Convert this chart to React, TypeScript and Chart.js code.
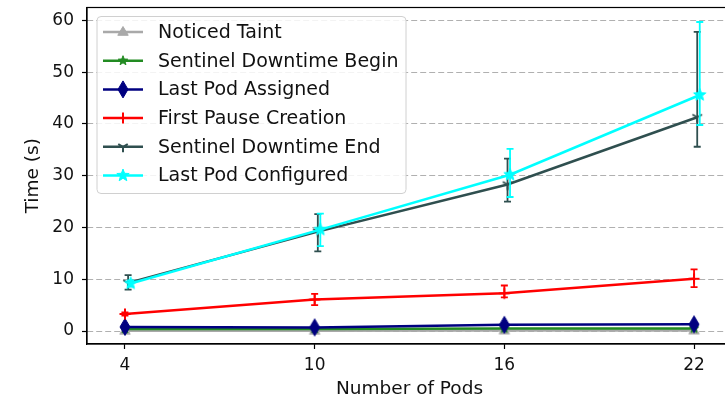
import React, { useEffect, useRef } from "react";
import { Chart, registerables } from "chart.js";

Chart.register(...registerables);

const pods = [4, 10, 16, 22];
const xTicks = [4, 10, 16, 22];
const yTicks = [0, 10, 20, 30, 40, 50, 60];

const noticedTaint = [0.05, 0.05, 0.1, 0.1];
const sentinelBegin = [0.4, 0.4, 0.5, 0.5];
const lastPodAssigned = [0.8, 0.7, 1.2, 1.3];
const firstPause = [3.3, 6.1, 7.3, 10.1];
const firstPauseLow = [3.0, 5.0, 6.5, 8.5];
const firstPauseHigh = [3.6, 7.2, 8.8, 11.9];
const sentinelEnd = [9.3, 19.2, 28.3, 41.3];
const sentinelEndLow = [8.0, 15.4, 25.0, 35.6];
const sentinelEndHigh = [10.8, 22.6, 33.3, 57.8];
const lastPodConfigured = [9.2, 19.6, 30.2, 45.6];
const lastPodConfiguredLow = [8.6, 16.4, 25.9, 39.8];
const lastPodConfiguredHigh = [9.8, 22.7, 35.2, 59.7];

type Marker = "triangle" | "star" | "thinDiamond" | "plus" | "triDown" | "bigStar";

interface Series {
  label: string;
  values: number[];
  low?: number[];
  high?: number[];
  color: string;
  marker: Marker;
  shift: number;
}

const series: Series[] = [
  { label: "Noticed Taint", values: noticedTaint, color: "#a9a9a9", marker: "triangle", shift: 0 },
  { label: "Sentinel Downtime Begin", values: sentinelBegin, color: "#228b22", marker: "star", shift: 0 },
  { label: "Last Pod Assigned", values: lastPodAssigned, color: "#000080", marker: "thinDiamond", shift: 0 },
  { label: "First Pause Creation", values: firstPause, low: firstPauseLow, high: firstPauseHigh, color: "#ff0000", marker: "plus", shift: 0 },
  { label: "Sentinel Downtime End", values: sentinelEnd, low: sentinelEndLow, high: sentinelEndHigh, color: "#2f4f4f", marker: "triDown", shift: 0.1 },
  { label: "Last Pod Configured", values: lastPodConfigured, low: lastPodConfiguredLow, high: lastPodConfiguredHigh, color: "#00ffff", marker: "bigStar", shift: 0.18 },
];

function starPath(ctx: CanvasRenderingContext2D, cx: number, cy: number, ro: number, ri: number) {
  ctx.beginPath();
  for (let i = 0; i < 10; i++) {
    const r = i % 2 === 0 ? ro : ri;
    const a = -Math.PI / 2 + (i * Math.PI) / 5;
    const x = cx + r * Math.cos(a);
    const y = cy + r * Math.sin(a);
    if (i === 0) ctx.moveTo(x, y);
    else ctx.lineTo(x, y);
  }
  ctx.closePath();
}

function drawMarker(ctx: CanvasRenderingContext2D, kind: Marker, cx: number, cy: number, color: string) {
  ctx.save();
  ctx.fillStyle = color;
  ctx.strokeStyle = color;
  ctx.lineWidth = 1;
  ctx.setLineDash([]);
  if (kind === "triangle") {
    const r = 5.5;
    ctx.beginPath();
    ctx.moveTo(cx, cy - r);
    ctx.lineTo(cx + r * 0.95, cy + r * 0.6);
    ctx.lineTo(cx - r * 0.95, cy + r * 0.6);
    ctx.closePath();
    ctx.fill();
    ctx.stroke();
  } else if (kind === "star" || kind === "bigStar") {
    const ro = kind === "star" ? 5 : 6.5;
    starPath(ctx, cx, cy, ro, ro * 0.42);
    ctx.fill();
    ctx.stroke();
  } else if (kind === "thinDiamond") {
    ctx.beginPath();
    ctx.moveTo(cx, cy - 8.5);
    ctx.lineTo(cx + 5, cy);
    ctx.lineTo(cx, cy + 8.5);
    ctx.lineTo(cx - 5, cy);
    ctx.closePath();
    ctx.fill();
    ctx.stroke();
  } else if (kind === "plus") {
    ctx.lineWidth = 2;
    ctx.beginPath();
    ctx.moveTo(cx - 5.5, cy);
    ctx.lineTo(cx + 5.5, cy);
    ctx.moveTo(cx, cy - 5.5);
    ctx.lineTo(cx, cy + 5.5);
    ctx.stroke();
  } else if (kind === "triDown") {
    const r = 5.5;
    ctx.lineWidth = 2;
    ctx.beginPath();
    ctx.moveTo(cx, cy);
    ctx.lineTo(cx, cy + r);
    ctx.moveTo(cx, cy);
    ctx.lineTo(cx - r * 0.866, cy - r * 0.5);
    ctx.moveTo(cx, cy);
    ctx.lineTo(cx + r * 0.866, cy - r * 0.5);
    ctx.stroke();
  }
  ctx.restore();
}

function markerImage(kind: Marker, color: string): HTMLCanvasElement {
  const c = document.createElement("canvas");
  c.width = 22;
  c.height = 22;
  const ctx = c.getContext("2d")!;
  drawMarker(ctx, kind, 11, 11, color);
  return c;
}

const FONT = "'DejaVu Sans', sans-serif";

const errorBarPlugin = {
  id: "errorBars",
  afterDatasetDraw(chart: any, args: any) {
    const s = series[args.index];
    if (!s || !s.low || !s.high) return;
    const { ctx, chartArea } = chart;
    const yScale = chart.scales.y;
    const meta = args.meta;
    ctx.save();
    ctx.beginPath();
    ctx.rect(chartArea.left, chartArea.top, chartArea.right - chartArea.left, chartArea.bottom - chartArea.top);
    ctx.clip();
    ctx.strokeStyle = s.color;
    ctx.lineWidth = 1.8;
    ctx.setLineDash([]);
    meta.data.forEach((pt: any, i: number) => {
      const x = pt.x;
      const yl = yScale.getPixelForValue(s.low![i]);
      const yh = yScale.getPixelForValue(s.high![i]);
      ctx.beginPath();
      ctx.moveTo(x, yl);
      ctx.lineTo(x, yh);
      ctx.moveTo(x - 3.5, yl);
      ctx.lineTo(x + 3.5, yl);
      ctx.moveTo(x - 3.5, yh);
      ctx.lineTo(x + 3.5, yh);
      ctx.stroke();
    });
    ctx.restore();
  },
};

const frameLegendPlugin = {
  id: "frameLegend",
  afterDraw(chart: any) {
    const { ctx, chartArea } = chart;
    ctx.save();
    ctx.strokeStyle = "#000";
    ctx.lineWidth = 1.2;
    ctx.setLineDash([]);
    ctx.strokeRect(chartArea.left, chartArea.top, chartArea.right - chartArea.left, chartArea.bottom - chartArea.top);

    // legend
    const bx = chartArea.left + 10;
    const by = chartArea.top + 9;
    const bw = 309;
    const bh = 177;
    const r = 4;
    ctx.beginPath();
    ctx.moveTo(bx + r, by);
    ctx.lineTo(bx + bw - r, by);
    ctx.quadraticCurveTo(bx + bw, by, bx + bw, by + r);
    ctx.lineTo(bx + bw, by + bh - r);
    ctx.quadraticCurveTo(bx + bw, by + bh, bx + bw - r, by + bh);
    ctx.lineTo(bx + r, by + bh);
    ctx.quadraticCurveTo(bx, by + bh, bx, by + bh - r);
    ctx.lineTo(bx, by + r);
    ctx.quadraticCurveTo(bx, by, bx + r, by);
    ctx.closePath();
    ctx.fillStyle = "rgba(255,255,255,0.85)";
    ctx.fill();
    ctx.strokeStyle = "#d0d0d0";
    ctx.lineWidth = 1;
    ctx.stroke();

    ctx.font = `19px ${FONT}`;
    ctx.textBaseline = "middle";
    ctx.textAlign = "left";
    series.forEach((s, i) => {
      const y = by + 15.5 + i * 28.7;
      ctx.strokeStyle = s.color;
      ctx.lineWidth = 2.5;
      ctx.beginPath();
      ctx.moveTo(bx + 6, y);
      ctx.lineTo(bx + 46, y);
      ctx.stroke();
      drawMarker(ctx, s.marker, bx + 26, y, s.color);
      ctx.fillStyle = "#111";
      ctx.fillText(s.label, bx + 61, y + 1);
    });
    ctx.restore();
  },
};

export default function App() {
  const ref = useRef<HTMLCanvasElement | null>(null);

  useEffect(() => {
    if (!ref.current) return;
    Chart.defaults.font.family = FONT;
    const datasets = series.map((s, i) => ({
      label: s.label,
      data: pods.map((p, j) => ({ x: p + s.shift, y: s.values[j] })),
      borderColor: s.color,
      backgroundColor: s.color,
      borderWidth: 2.5,
      pointStyle: markerImage(s.marker, s.color) as any,
      pointRadius: 5,
      pointHoverRadius: 5,
      tension: 0,
      order: series.length - 1 - i,
      clip: false as any,
    }));

    const chart = new Chart(ref.current, {
      type: "line",
      data: { datasets },
      plugins: [errorBarPlugin, frameLegendPlugin],
      options: {
        animation: false,
        responsive: false,
        devicePixelRatio: 1,
        layout: { padding: { top: 7, right: 38, left: 0, bottom: 0 } },
        plugins: { legend: { display: false }, tooltip: { enabled: false } },
        scales: {
          x: {
            type: "linear",
            min: 2.8,
            max: 23.2,
            afterBuildTicks: (scale: any) => {
              scale.ticks = xTicks.map((v) => ({ value: v }));
            },
            afterFit: (scale: any) => {
              scale.height = 56;
              scale.paddingLeft = 0;
              scale.paddingRight = 0;
            },
            grid: {
              display: true,
              drawOnChartArea: false,
              drawTicks: true,
              tickLength: 5,
              tickColor: "#000",
              tickWidth: 1.2,
            },
            border: { display: true, color: "#000", width: 1.2 },
            ticks: {
              padding: 6,
              color: "#111",
              font: { size: 17, family: FONT },
              maxRotation: 0,
              autoSkip: false,
            },
            title: {
              display: true,
              text: "Number of Pods",
              color: "#111",
              font: { size: 18.5, family: FONT },
              padding: { top: 0, bottom: 0 },
            },
          },
          y: {
            type: "linear",
            min: -2.5,
            max: 62.5,
            afterBuildTicks: (scale: any) => {
              scale.ticks = yTicks.map((v) => ({ value: v }));
            },
            afterFit: (scale: any) => {
              scale.width = 87;
              scale.paddingTop = 0;
              scale.paddingBottom = 0;
            },
            grid: {
              display: true,
              drawOnChartArea: true,
              drawTicks: true,
              tickLength: 5,
              color: "#b0b0b0",
              lineWidth: 1,
              tickColor: "#000",
              tickWidth: 1.2,
              tickBorderDash: [],
            } as any,
            border: { display: true, color: "#000", width: 1.2, dash: [6, 3] },
            ticks: {
              padding: 8,
              color: "#111",
              font: { size: 17, family: FONT },
              autoSkip: false,
            },
            title: {
              display: true,
              text: "Time (s)",
              color: "#111",
              font: { size: 18.5, family: FONT },
              padding: { top: 22, bottom: 0 },
            },
          },
        },
      },
    });
    return () => chart.destroy();
  }, []);

  return (
    <div style={{ position: "fixed", left: 0, top: 0, width: 725, height: 400, overflow: "hidden", background: "#fff" }}>
      <canvas ref={ref} width={770} height={400} style={{ display: "block", width: 770, height: 400 }} />
    </div>
  );
}
